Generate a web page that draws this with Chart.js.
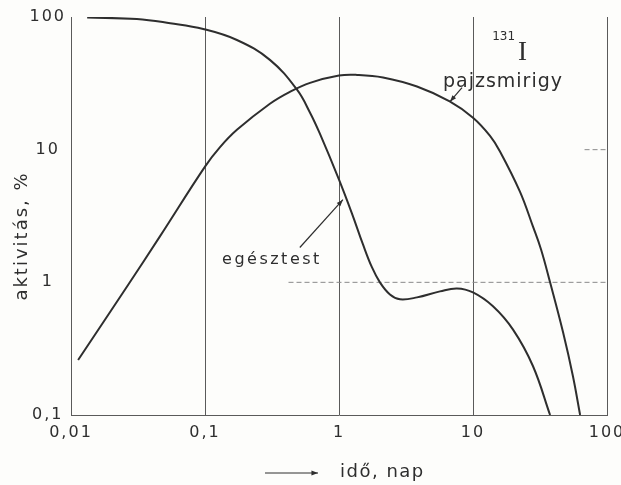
<!DOCTYPE html>
<html>
<head>
<meta charset="utf-8">
<script src="https://cdn.jsdelivr.net/npm/chart.js@4/dist/chart.umd.min.js"></script>
<style>
  html, body { margin: 0; padding: 0; background: #fdfdfb; }
  #wrap { width: 621px; height: 485px; position: relative; }
</style>
</head>
<body>
<div id="wrap"><canvas id="c" width="621" height="485"></canvas></div>
<script>
// Decade ticks of both logarithmic axes and their printed labels
const xTickValues = [0.01, 0.1, 1, 10, 100];
const xTickLabels = ['0,01', '0,1', '1', '10', '100'];
const yTickValues = [0.1, 1, 10, 100];
const yTickLabels = ['0,1', '1', '10', '100'];

// 131I activity in the whole body (egésztest), % vs. days
const wholeBodyDays     = [0.0132, 0.031, 0.055, 0.097, 0.173, 0.305, 0.486, 0.608, 0.72, 1.0, 1.25, 1.51, 1.76, 2.02, 2.40, 2.85, 3.82, 5.67, 7.6, 10, 14.1, 19.9, 28, 37.6];
const wholeBodyActivity = [99, 96.6, 89.7, 81.2, 67.1, 47.5, 28.3, 19.0, 13.2, 5.95, 3.3, 1.93, 1.30, 1.0, 0.81, 0.745, 0.77, 0.855, 0.9, 0.84, 0.66, 0.44, 0.234, 0.1];

// 131I activity in the thyroid (pajzsmirigy), % vs. days
const thyroidDays     = [0.0113, 0.0262, 0.0461, 0.1, 0.129, 0.173, 0.305, 0.43, 0.608, 1.0, 1.36, 2.13, 3.82, 6.7, 10, 13.4, 15.9, 22.4, 28, 32.2, 37.6, 47, 55.7, 63];
const thyroidActivity = [0.26, 0.93, 2.22, 7.45, 10.4, 14.1, 22.2, 27.3, 31.9, 36.2, 36.6, 35.0, 29.9, 23.1, 17.4, 12.7, 9.7, 4.83, 2.64, 1.77, 1.0, 0.42, 0.196, 0.1];

// Partial horizontal guide lines of the grid paper
const guideOneDays = [0.42, 100];
const guideOneLevel = 1;
const guideTenDays = [68, 100];
const guideTenLevel = 10;

const ink = '#2e2e2e';
const gridInk = '#5a5a5a';
const font = 'DejaVu Sans';

const toPoints = (xs, ys) => xs.map((v, i) => ({ x: v, y: ys[i] }));
const flat = (xs, level) => xs.map(v => ({ x: v, y: level }));

// Letter spacing for the spaced-out lettering of the axes
const spacing = {
  id: 'spacing',
  beforeLayout(chart) { chart.ctx.letterSpacing = '2px'; },
  beforeDraw(chart) { chart.ctx.letterSpacing = '2px'; }
};

function arrow(ctx, x1, y1, x2, y2, head) {
  ctx.beginPath();
  ctx.moveTo(x1, y1);
  ctx.lineTo(x2, y2);
  ctx.stroke();
  const a = Math.atan2(y2 - y1, x2 - x1);
  ctx.beginPath();
  ctx.moveTo(x2, y2);
  ctx.lineTo(x2 - head * Math.cos(a - 0.35), y2 - head * Math.sin(a - 0.35));
  ctx.lineTo(x2 - head * Math.cos(a + 0.35), y2 - head * Math.sin(a + 0.35));
  ctx.closePath();
  ctx.fill();
}

// Curve names, isotope symbol and axis titles
const annotations = {
  id: 'annotations',
  afterDraw(chart) {
    const { ctx } = chart;
    const xs = chart.scales.x, ys = chart.scales.y;
    const px = v => xs.getPixelForValue(v);
    const py = v => ys.getPixelForValue(v);
    ctx.save();
    ctx.fillStyle = ink;
    ctx.strokeStyle = ink;
    ctx.lineWidth = 1.2;
    ctx.textBaseline = 'alphabetic';
    ctx.textAlign = 'left';

    // whole body label
    ctx.letterSpacing = '2.5px';
    ctx.font = `16px "${font}"`;
    ctx.fillText('egésztest', px(0.134), py(1.37));
    arrow(ctx, px(0.51), py(1.83), px(1.07), py(4.2), 7);

    // thyroid label
    ctx.letterSpacing = '1px';
    ctx.font = `19px "${font}"`;
    ctx.fillText('pajzsmirigy', px(5.97), py(29.8));
    arrow(ctx, px(8.28), py(29.3), px(6.73), py(23), 7);

    // isotope symbol
    ctx.letterSpacing = '0px';
    ctx.font = `12px "${font}"`;
    ctx.fillText('131', px(13.9), py(67));
    ctx.font = '27px "Liberation Serif"';
    ctx.fillText('I', px(21.7), py(47.5));

    // y axis title
    ctx.save();
    ctx.translate(22, 236);
    ctx.rotate(-Math.PI / 2);
    ctx.letterSpacing = '2px';
    ctx.font = `18px "${font}"`;
    ctx.textAlign = 'center';
    ctx.textBaseline = 'middle';
    ctx.fillText('aktivitás, %', 0, 0);
    ctx.restore();

    // x axis title with its arrow
    ctx.lineWidth = 1;
    arrow(ctx, 265, 473, 318, 473, 7);
    ctx.letterSpacing = '1.5px';
    ctx.font = `18px "${font}"`;
    ctx.textBaseline = 'middle';
    ctx.fillText('idő, nap', 340, 472);
    ctx.restore();
  }
};

new Chart(document.getElementById('c'), {
  type: 'line',
  data: {
    datasets: [
      {
        label: 'egésztest',
        data: toPoints(wholeBodyDays, wholeBodyActivity),
        borderColor: ink, borderWidth: 2, pointRadius: 0,
        tension: 0.4, fill: false
      },
      {
        label: 'pajzsmirigy',
        data: toPoints(thyroidDays, thyroidActivity),
        borderColor: ink, borderWidth: 2, pointRadius: 0,
        tension: 0.4, fill: false
      },
      {
        label: 'guide 1',
        data: flat(guideOneDays, guideOneLevel),
        borderColor: '#8a8a8a', borderWidth: 1, borderDash: [5, 3], pointRadius: 0
      },
      {
        label: 'guide 10',
        data: flat(guideTenDays, guideTenLevel),
        borderColor: '#8a8a8a', borderWidth: 1, borderDash: [5, 3], pointRadius: 0
      }
    ]
  },
  options: {
    responsive: false,
    animation: false,
    devicePixelRatio: 1,
    layout: { padding: { top: 17, right: 14, bottom: 0, left: 0 } },
    plugins: { legend: { display: false }, tooltip: { enabled: false } },
    scales: {
      x: {
        type: 'logarithmic',
        min: 0.01, max: 100,
        afterBuildTicks: s => { s.ticks = xTickValues.map(v => ({ value: v })); },
        afterFit: s => { s.height = 70; s.paddingLeft = 0; s.paddingRight = 0; },
        ticks: {
          autoSkip: false, maxRotation: 0, padding: 8,
          color: ink, font: { family: font, size: 16 },
          callback: v => xTickLabels[xTickValues.indexOf(v)]
        },
        grid: { display: true, color: gridInk, lineWidth: 1, drawTicks: false },
        border: { display: true, color: gridInk, width: 1 }
      },
      y: {
        type: 'logarithmic',
        min: 0.1, max: 100,
        afterBuildTicks: s => { s.ticks = yTickValues.map(v => ({ value: v })); },
        afterFit: s => { s.width = 71; s.paddingTop = 0; s.paddingBottom = 0; },
        ticks: {
          autoSkip: false, padding: 5, crossAlign: 'center',
          color: ink, font: { family: font, size: 16 },
          callback: v => yTickLabels[yTickValues.indexOf(v)]
        },
        grid: { display: false, drawTicks: false },
        border: { display: true, color: gridInk, width: 1 }
      }
    }
  },
  plugins: [spacing, annotations]
});
</script>
</body>
</html>
